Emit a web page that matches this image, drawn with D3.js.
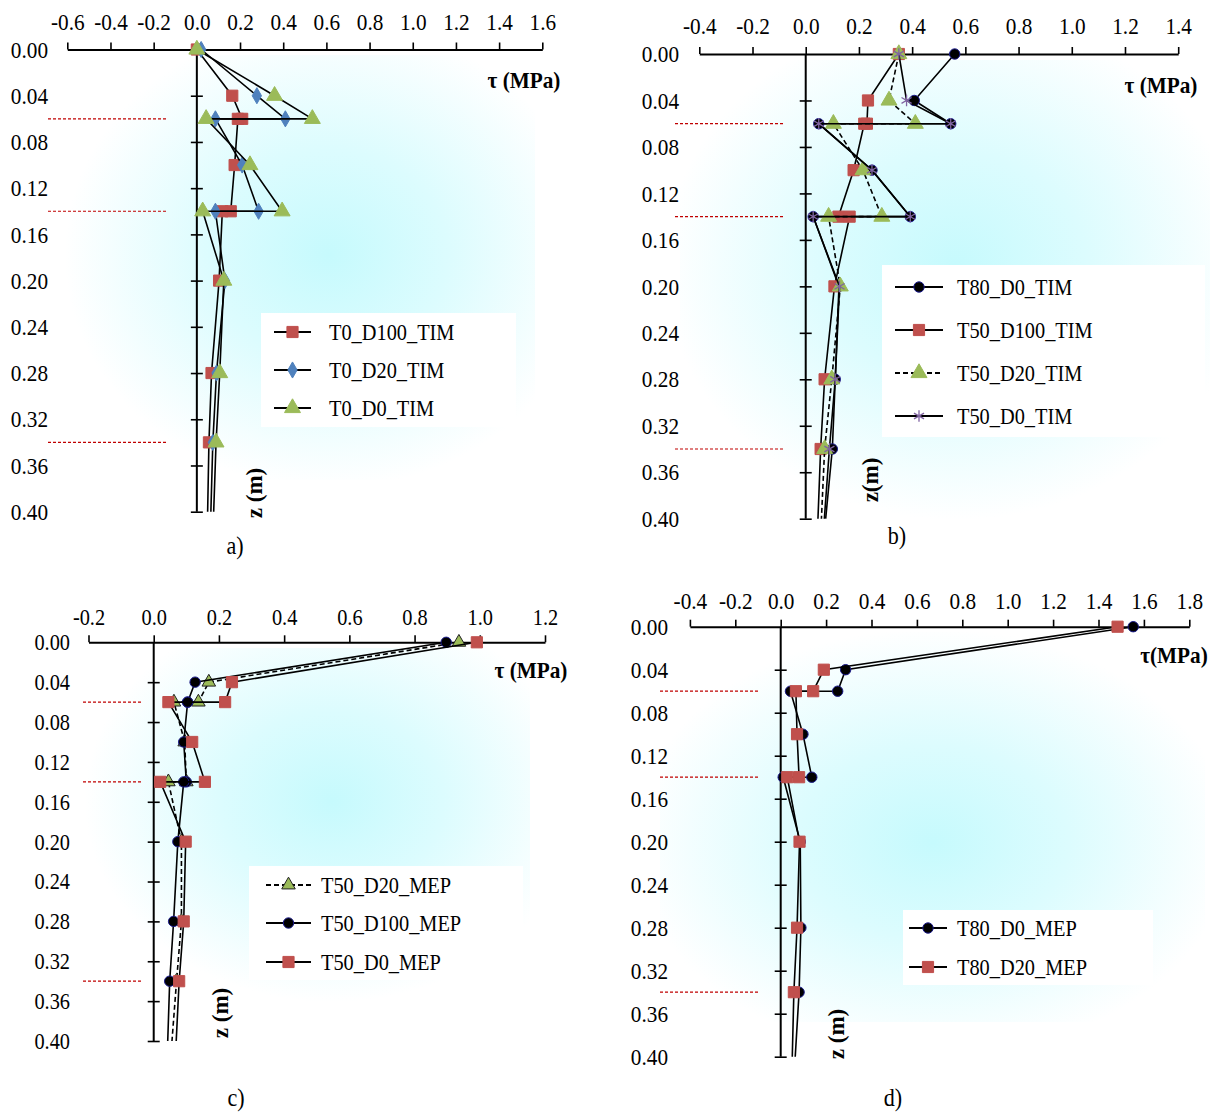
<html>

<head>
    <script src="https://d3js.org/d3.v7.min.js"></script>
    <style>
        body { margin: 0; background: #fff; }
        text { font-family: "Liberation Serif", "Times New Roman", serif; fill: #000; }
    </style>
</head>

<body>
    <svg id="svg" width="1215" height="1113"></svg>
    <script>
        // depth of every profile point, interfaces (0.06, 0.14) show up twice
        const depth = [0, 0.04, 0.06, 0.06, 0.10, 0.14, 0.14, 0.20, 0.28, 0.34, 0.40];
        const zTicks = [0, 0.04, 0.08, 0.12, 0.16, 0.20, 0.24, 0.28, 0.32, 0.36, 0.40];
        const interfaces = [0.06, 0.14, 0.34];

        // a) T0 TIM
        const namesA = ["T0_D100_TIM", "T0_D20_TIM", "T0_D0_TIM"];
        const a_D100 = [0, 0.164, 0.21, 0.19, 0.175, 0.157, 0.118, 0.103, 0.068, 0.056, 0.05];
        const a_D20 = [0.02, 0.278, 0.41, 0.086, 0.21, 0.286, 0.086, 0.13, 0.091, 0.074, 0.065];
        const a_D0 = [0, 0.36, 0.535, 0.043, 0.246, 0.395, 0.027, 0.125, 0.106, 0.089, 0.078];
        const ticksA = [-0.6, -0.4, -0.2, 0, 0.2, 0.4, 0.6, 0.8, 1.0, 1.2, 1.4, 1.6];

        // b) T80 / T50 TIM
        const namesB = ["T80_D0_TIM", "T50_D100_TIM", "T50_D20_TIM", "T50_D0_TIM"];
        const b_T80_D0 = [0.56, 0.408, 0.545, 0.049, 0.249, 0.393, 0.028, 0.125, 0.111, 0.10, 0.075];
        const b_T50_D100 = [0.35, 0.234, 0.23, 0.22, 0.18, 0.123, 0.165, 0.108, 0.071, 0.056, 0.046];
        const b_T50_D20 = [0.35, 0.313, 0.412, 0.104, 0.215, 0.286, 0.086, 0.13, 0.098, 0.071, 0.059];
        const b_T50_D0 = [0.35, 0.379, 0.545, 0.049, 0.249, 0.393, 0.028, 0.127, 0.111, 0.089, 0.07];
        const ticksB = [-0.4, -0.2, 0, 0.2, 0.4, 0.6, 0.8, 1.0, 1.2, 1.4];

        // c) T50 MEP
        const namesC = ["T50_D20_MEP", "T50_D100_MEP", "T50_D0_MEP"];
        const c_D20 = [0.936, 0.169, 0.137, 0.062, 0.095, 0.10, 0.045, 0.085, 0.085, 0.07, 0.056];
        const c_D100 = [0.897, 0.127, 0.104, 0.104, 0.092, 0.10, 0.092, 0.074, 0.061, 0.049, 0.043];
        const c_D0 = [0.991, 0.24, 0.219, 0.045, 0.118, 0.157, 0.02, 0.098, 0.092, 0.078, 0.069];
        const ticksC = [-0.2, 0, 0.2, 0.4, 0.6, 0.8, 1.0, 1.2];

        // d) T80 MEP
        const namesD = ["T80_D0_MEP", "T80_D20_MEP"];
        const d_D0 = [1.553, 0.286, 0.251, 0.043, 0.098, 0.137, 0.011, 0.086, 0.089, 0.081, 0.064];
        const d_D20 = [1.484, 0.19, 0.143, 0.067, 0.072, 0.081, 0.029, 0.083, 0.072, 0.058, 0.051];
        const ticksD = [-0.4, -0.2, 0, 0.2, 0.4, 0.6, 0.8, 1.0, 1.2, 1.4, 1.6, 1.8];

        // marker styles
        const sq = { type: d3.symbolSquare, size: 125, fill: "#c0504d", stroke: "#c0504d" };
        const dia = { type: d3.symbolDiamond, size: 75, fill: "#4f81bd", stroke: "#4f81bd" };
        const tri = { type: d3.symbolTriangle, size: 110, fill: "#9bbb59", stroke: "#9bbb59" };
        const triC = { type: d3.symbolTriangle, size: 80, fill: "#9bbb59", stroke: "#222" };
        const dot = { type: d3.symbolCircle, size: 85, fill: "#000", stroke: "#1a1a8c" };
        const star = { type: d3.symbolAsterisk, size: 95, fill: "none", stroke: "#8064a2" };

        const panels = [
            {
                names: namesA, values: [a_D100, a_D20, a_D0], ticks: ticksA,
                marks: [sq, dia, tri], dashed: [false, false, false],
                xr: [67.3, 542.3], yr: [49.5, 511.7], labelRight: 48, pad: 13, font: 24,
                bg: { x: 55, y: 55, w: 480, h: 425, cx: 0.57, cy: 0.47 },
                redLine: [48, 166],
                tau: [524, 80, "τ (MPa)"], zlab: [254, 493, "z (m)"], cap: [235, 545, "a)"],
                legend: { x: 261, y: 313, w: 255, h: 114, rows: [332, 370, 408], line: [274, 311], tx: 329 }
            },
            {
                names: namesB, values: [b_T80_D0, b_T50_D100, b_T50_D20, b_T50_D0], ticks: ticksB,
                marks: [dot, sq, tri, star], dashed: [false, false, true, false],
                xr: [699.3, 1178.2], yr: [54, 518.7], labelRight: 679, pad: 13, font: 24,
                bg: { x: 680, y: 60, w: 530, h: 460, cx: 0.52, cy: 0.45 },
                redLine: [675, 784],
                tau: [1161, 85, "τ (MPa)"], zlab: [870, 480, "z(m)"], cap: [897, 535, "b)"],
                legend: { x: 882, y: 265, w: 323, h: 172, rows: [287, 330, 373, 416], line: [895, 943], tx: 957 }
            },
            {
                names: namesC, values: [c_D20, c_D100, c_D0], ticks: ticksC,
                marks: [triC, dot, sq], dashed: [true, false, false],
                xr: [88.5, 545], yr: [642.3, 1041], labelRight: 70, pad: 10, font: 23,
                bg: { x: 80, y: 648, w: 450, h: 365, cx: 0.56, cy: 0.42 },
                redLine: [83, 143],
                tau: [531, 670, "τ (MPa)"], zlab: [220, 1013, "z (m)"], cap: [236, 1097, "c)"],
                legend: { x: 249, y: 866, w: 274, h: 114, rows: [885, 923, 962], line: [266, 311], tx: 321 }
            },
            {
                names: namesD, values: [d_D0, d_D20], ticks: ticksD,
                marks: [dot, sq], dashed: [false, false],
                xr: [689.9, 1189.3], yr: [626.7, 1056.7], labelRight: 668, pad: 11, font: 24,
                bg: { x: 660, y: 632, w: 545, h: 390, cx: 0.5, cy: 0.54 },
                redLine: [660, 759],
                tau: [1174, 655, "τ(MPa)"], zlab: [836, 1034, "z (m)"], cap: [893, 1097, "d)"],
                legend: { x: 903, y: 910, w: 250, h: 75, rows: [928, 967], line: [909, 947], tx: 957 }
            }
        ];

        // the source figure is slightly squeezed sideways, so text is too
        const SX = 0.885;
        function squeeze(sel) {
            sel.each(function () {
                const t = d3.select(this);
                const tx = +t.attr("x") || 0, ty = +t.attr("y") || 0;
                t.attr("x", null).attr("y", null)
                    .attr("transform", `translate(${tx},${ty}) scale(${SX},1)`);
            });
        }

        const svg = d3.select("#svg");
        const defs = svg.append("defs");

        panels.forEach((p, pi) => {
            const g = svg.append("g");
            const x = d3.scaleLinear().domain([p.ticks[0], p.ticks[p.ticks.length - 1]]).range(p.xr);
            const y = d3.scaleLinear().domain([0, 0.40]).range(p.yr);

            // soft cyan plot-area fill
            const grad = defs.append("radialGradient").attr("id", "bg" + pi)
                .attr("cx", p.bg.cx).attr("cy", p.bg.cy).attr("r", 0.55);
            grad.append("stop").attr("offset", 0).attr("stop-color", "#c6fafd");
            grad.append("stop").attr("offset", 0.45).attr("stop-color", "#dcfcfe");
            grad.append("stop").attr("offset", 1).attr("stop-color", "#ffffff");
            g.append("rect").attr("x", p.bg.x).attr("y", p.bg.y)
                .attr("width", p.bg.w).attr("height", p.bg.h)
                .attr("fill", `url(#bg${pi})`);

            g.append("rect").attr("x", p.legend.x).attr("y", p.legend.y)
                .attr("width", p.legend.w).attr("height", p.legend.h).attr("fill", "#fff");

            // layer interfaces
            g.selectAll("line.iface").data(interfaces).join("line")
                .attr("class", "iface")
                .attr("x1", p.redLine[0]).attr("x2", p.redLine[1])
                .attr("y1", d => y(d)).attr("y2", d => y(d))
                .attr("stroke", "#c00000").attr("stroke-width", 1.2)
                .attr("stroke-dasharray", "3,2");

            // tau axis on top
            const xAxis = g.append("g").attr("transform", `translate(0,${y(0)})`)
                .call(d3.axisTop(x).tickValues(p.ticks).tickSize(7).tickSizeOuter(0)
                    .tickPadding(p.pad).tickFormat(d => d.toFixed(1)));
            xAxis.select(".domain").attr("stroke-width", 2);
            xAxis.selectAll(".tick line").attr("stroke-width", 1.6);
            xAxis.selectAll("text").style("font-size", p.font + "px")
                .style("font-family", '"Liberation Serif", serif')
                .call(squeeze);

            // z axis through tau = 0, labels sit far left
            g.append("line").attr("x1", x(0)).attr("x2", x(0))
                .attr("y1", y(0)).attr("y2", y(0.40))
                .attr("stroke", "#000").attr("stroke-width", 2);
            const zTickG = g.append("g").attr("transform", `translate(${x(0) + 6},0)`)
                .call(d3.axisLeft(y).tickValues(zTicks.slice(1)).tickSize(12).tickFormat(""));
            zTickG.select(".domain").remove();
            zTickG.selectAll(".tick line").attr("stroke-width", 1.6);
            const zLab = g.append("g").attr("transform", `translate(${p.labelRight},0)`)
                .call(d3.axisLeft(y).tickValues(zTicks).tickSize(0).tickPadding(0)
                    .tickFormat(d => d.toFixed(2)));
            zLab.select(".domain").remove();
            zLab.selectAll("text").style("font-size", p.font + "px")
                .style("font-family", '"Liberation Serif", serif')
                .call(squeeze);

            // profiles
            const line = d3.line().x(d => x(d.t)).y(d => y(d.z));
            p.values.forEach((vals, si) => {
                const pts = vals.map((t, i) => ({ t: t, z: depth[i] }));
                g.append("path").datum(pts)
                    .attr("d", line)
                    .attr("fill", "none")
                    .attr("stroke", "#000")
                    .attr("stroke-width", 1.6)
                    .attr("stroke-dasharray", p.dashed[si] ? "5,3" : null);
                const m = p.marks[si];
                g.selectAll("path.m" + si).data(pts.filter(d => d.z < 0.39))
                    .join("path")
                    .attr("class", "m" + si)
                    .attr("d", d3.symbol().type(m.type).size(m.size))
                    .attr("transform", d => `translate(${x(d.t)},${y(d.z)})`)
                    .attr("fill", m.fill)
                    .attr("stroke", m.stroke)
                    .attr("stroke-width", m.fill === "none" ? 1.3 : 1);
            });

            // legend entries
            p.names.forEach((name, si) => {
                const ly = p.legend.rows[si];
                const m = p.marks[si];
                g.append("line").attr("x1", p.legend.line[0]).attr("x2", p.legend.line[1])
                    .attr("y1", ly).attr("y2", ly)
                    .attr("stroke", "#000").attr("stroke-width", 1.8)
                    .attr("stroke-dasharray", p.dashed[si] ? "5,3" : null);
                g.append("path")
                    .attr("d", d3.symbol().type(m.type).size(m.size))
                    .attr("transform", `translate(${(p.legend.line[0] + p.legend.line[1]) / 2},${ly})`)
                    .attr("fill", m.fill).attr("stroke", m.stroke)
                    .attr("stroke-width", m.fill === "none" ? 1.3 : 1);
                g.append("text").attr("x", p.legend.tx).attr("y", ly)
                    .attr("dy", "0.35em")
                    .style("font-size", "23px")
                    .text(name)
                    .call(squeeze);
            });

            // titles
            g.append("text").attr("x", p.tau[0]).attr("y", p.tau[1]).attr("dy", "0.35em")
                .attr("text-anchor", "middle").style("font-size", "24px").style("font-weight", "bold")
                .text(p.tau[2])
                .call(squeeze);
            g.append("text")
                .attr("transform", `translate(${p.zlab[0]},${p.zlab[1]}) rotate(-90)`)
                .attr("dy", "0.35em").attr("text-anchor", "middle")
                .style("font-size", "23px").style("font-weight", "bold")
                .text(p.zlab[2]);
            g.append("text").attr("x", p.cap[0]).attr("y", p.cap[1]).attr("dy", "0.35em")
                .attr("text-anchor", "middle").style("font-size", "25px")
                .text(p.cap[2])
                .call(squeeze);
        });
    </script>
</body>

</html>
